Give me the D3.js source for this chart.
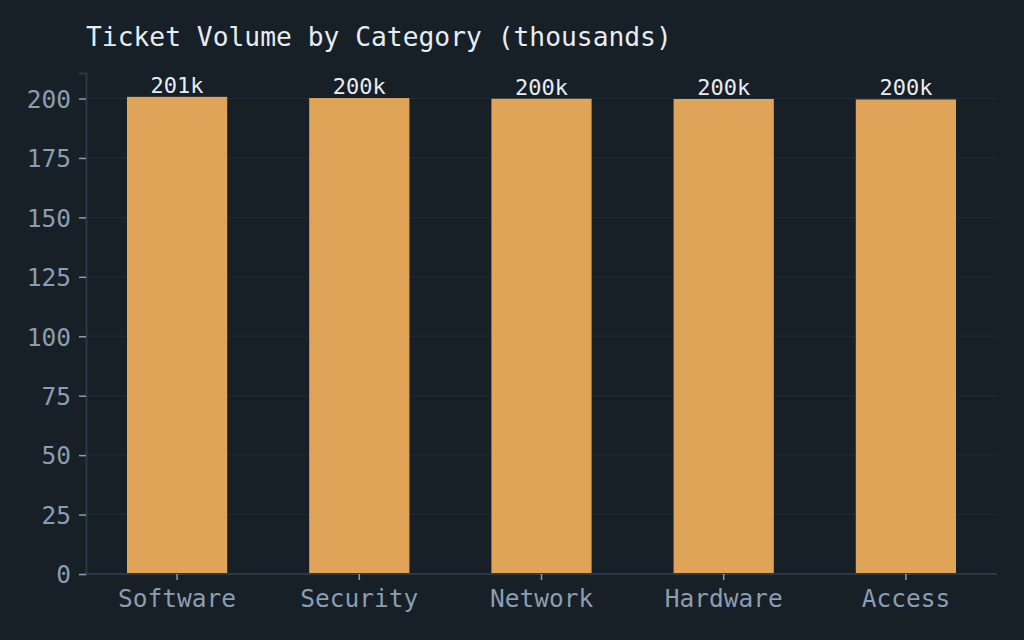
<!DOCTYPE html>
<html>
<head>
<meta charset="utf-8">
<script src="https://cdn.jsdelivr.net/npm/d3@7"></script>
<style>
  html, body { margin: 0; padding: 0; background: #171f27; }
  svg { display: block; }
</style>
</head>
<body>
<script>
var categories = ["Software", "Security", "Network", "Hardware", "Access"];
var volumes = [200.7, 200.2, 199.9, 199.8, 199.6];
var valueLabels = ["201k", "200k", "200k", "200k", "200k"];
var yTicks = [0, 25, 50, 75, 100, 125, 150, 175, 200];

var width = 1024, height = 640;
var margin = { top: 73, right: 27, bottom: 66, left: 86 };
var font = "'DejaVu Sans Mono', monospace";

var svg = d3.select("body").append("svg")
    .attr("width", width)
    .attr("height", height);

svg.append("rect")
    .attr("width", width)
    .attr("height", height)
    .attr("fill", "#171f27");

var x = d3.scaleBand()
    .domain(categories)
    .range([margin.left, width - margin.right])
    .paddingInner(0.45)
    .paddingOuter(0.225);

var y = d3.scaleLinear()
    .domain([0, d3.max(volumes) * 1.05])
    .range([height - margin.bottom, margin.top]);

// grid
svg.append("g")
    .selectAll("line")
    .data(yTicks.slice(1))
    .enter()
    .append("line")
    .attr("x1", margin.left)
    .attr("x2", width - margin.right)
    .attr("y1", function(d) { return y(d); })
    .attr("y2", function(d) { return y(d); })
    .attr("stroke", "#212d39")
    .attr("stroke-width", 1);

// bars
svg.append("g")
    .selectAll("rect")
    .data(volumes)
    .enter()
    .append("rect")
    .attr("x", function(d, i) { return x(categories[i]); })
    .attr("y", function(d) { return y(d); })
    .attr("width", x.bandwidth())
    .attr("height", function(d) { return y(0) - y(d); })
    .attr("fill", "#e0a458");

// value labels
svg.append("g")
    .selectAll("text")
    .data(volumes)
    .enter()
    .append("text")
    .attr("x", function(d, i) { return x(categories[i]) + x.bandwidth() / 2; })
    .attr("y", function(d) { return y(d) - 4; })
    .attr("text-anchor", "middle")
    .attr("fill", "#e6edf3")
    .style("font-family", font)
    .style("font-size", "22px")
    .text(function(d, i) { return valueLabels[i]; });

// y axis
var yAxis = svg.append("g")
    .attr("transform", "translate(" + margin.left + ",0)")
    .call(d3.axisLeft(y).tickValues(yTicks).tickSize(7).tickPadding(8));

// x axis
var xAxis = svg.append("g")
    .attr("transform", "translate(0," + (height - margin.bottom) + ")")
    .call(d3.axisBottom(x).tickSize(6).tickPadding(10));

[yAxis, xAxis].forEach(function(a) {
    a.select(".domain").attr("stroke", "#2b3947").attr("stroke-width", 2);
    a.selectAll(".tick line").attr("stroke", "#8a9cae").attr("stroke-width", 1.5);
    a.selectAll(".tick text")
        .attr("fill", "#8b9db0")
        .style("font-family", font)
        .style("font-size", "24.5px");
});
yAxis.selectAll(".tick text").attr("dy", "0.36em");
xAxis.select(".domain").attr("d", "M" + margin.left + ",0H" + (width - margin.right));

// title
svg.append("text")
    .attr("x", 86)
    .attr("y", 46)
    .attr("fill", "#e6edf3")
    .style("font-family", font)
    .style("font-size", "26.3px")
    .text("Ticket Volume by Category (thousands)");
</script>
</body>
</html>
